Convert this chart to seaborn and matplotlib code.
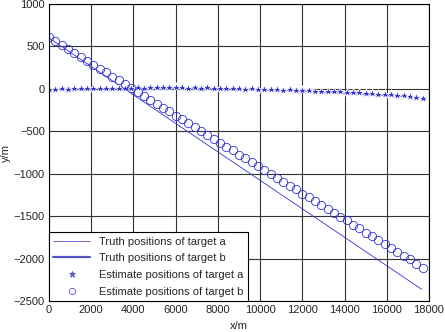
import matplotlib
matplotlib.use("Agg")
import matplotlib.pyplot as plt
import seaborn as sns

# truth tracks (x/m, y/m)
truth_a_x = [0, 4000, 8000, 12000, 17700]
truth_a_y = [0, 15, 5, -25, -100]
truth_b_x = [0, 17650]
truth_b_y = [600, -2360]

# estimated positions, one every ~300 m
est_x = [0, 300, 600, 900, 1200, 1500, 1800, 2100, 2400, 2700,
         3000, 3300, 3600, 3900, 4200, 4500, 4800, 5100, 5400, 5700,
         6000, 6300, 6600, 6900, 7200, 7500, 7800, 8100, 8400, 8700,
         9000, 9300, 9600, 9900, 10200, 10500, 10800, 11100, 11400, 11700,
         12000, 12300, 12600, 12900, 13200, 13500, 13800, 14100, 14400, 14700,
         15000, 15300, 15600, 15900, 16200, 16500, 16800, 17100, 17400, 17700]
est_a_y = [0, 2, 5, 3, 6, 8, 5, 10, 12, 9,
           14, 12, 16, 15, 18, 14, 20, 17, 19, 22,
           18, 20, 16, 19, 14, 17, 12, 10, 13, 8,
           9, 4, 6, 0, 2, -4, -2, -8, -6, -12,
           -15, -14, -20, -22, -26, -30, -28, -36, -40, -42,
           -48, -52, -55, -60, -65, -68, -76, -84, -92, -105]
est_b_y = [610, 560, 515, 468, 420, 378, 330, 286, 236, 194,
           145, 102, 52, 10, -36, -82, -130, -173, -223, -265,
           -315, -357, -407, -449, -499, -541, -590, -632, -682, -724,
           -774, -816, -866, -908, -958, -1000, -1049, -1091, -1141, -1183,
           -1233, -1275, -1325, -1367, -1417, -1459, -1508, -1550, -1600, -1642,
           -1692, -1734, -1784, -1826, -1876, -1918, -1967, -2009, -2059, -2105]

blue = "#3434d4"
legend_blue = "#5555c8"

sns.set_style("white")
plt.rcParams["font.family"] = ["Liberation Sans", "DejaVu Sans"]
plt.rcParams["font.size"] = 8

fig, ax = plt.subplots(figsize=(4.45, 3.32), dpi=100)
fig.subplots_adjust(left=0.110, right=0.964, top=0.988, bottom=0.093)

sns.lineplot(x=truth_a_x, y=truth_a_y, ax=ax, color=blue, lw=0.6,
             sort=False, label="Truth positions of target a")
sns.lineplot(x=truth_b_x, y=truth_b_y, ax=ax, color=blue, lw=0.6,
             sort=False, label="Truth positions of target b")
sns.lineplot(x=est_x, y=est_a_y, ax=ax, color=blue, linestyle="", marker="*",
             markersize=6.5, markeredgewidth=0.6, sort=False,
             label="Estimate positions of target a")
sns.lineplot(x=est_x, y=est_b_y, ax=ax, color=blue, linestyle="", marker="o",
             markersize=6, markerfacecolor="none", markeredgecolor=blue,
             markeredgewidth=0.6, sort=False,
             label="Estimate positions of target b")

ax.set_xlim(0, 18000)
ax.set_ylim(-2500, 1000)
ax.set_xticks(range(0, 18001, 2000))
ax.set_yticks(range(-2500, 1001, 500))
ax.grid(True, color="#333333", lw=0.8)
ax.tick_params(length=0, pad=3, labelsize=8)
for s in ax.spines.values():
    s.set_color("black")
    s.set_linewidth(0.8)
ax.set_xlabel("x/m", fontsize=8, labelpad=4)
ax.set_ylabel("y/m", fontsize=8, labelpad=2)

leg = ax.legend(loc="lower left", borderaxespad=0, fancybox=False,
                framealpha=1, edgecolor="black", handlelength=3.3,
                labelspacing=0.6, fontsize=8)
leg.get_frame().set_linewidth(0.8)
lines = leg.get_lines()
lines[1].set_linewidth(1.6)
lines[2].set_markersize(4.5)
lines[3].set_markersize(4.5)
for ln in lines:
    ln.set_color(legend_blue)
    ln.set_markeredgecolor(legend_blue)

fig.savefig("out.png", dpi=100)
